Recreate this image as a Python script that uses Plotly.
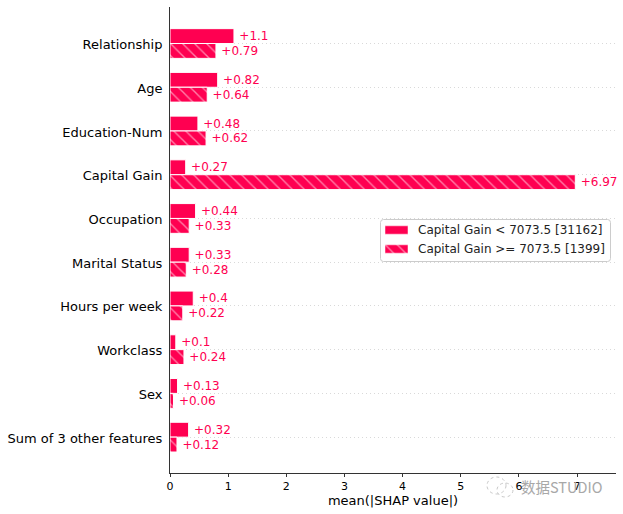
import plotly.graph_objects as go

features = ["Relationship", "Age", "Education-Num", "Capital Gain", "Occupation",
            "Marital Status", "Hours per week", "Workclass", "Sex", "Sum of 3 other features"]
low_values = [1.1, 0.82, 0.48, 0.27, 0.44, 0.33, 0.4, 0.1, 0.13, 0.32]
high_values = [0.79, 0.64, 0.62, 6.97, 0.33, 0.28, 0.22, 0.24, 0.06, 0.12]
low_name = "Capital Gain < 7073.5 [31162]"
high_name = "Capital Gain >= 7073.5 [1399]"
x_ticks = [0, 1, 2, 3, 4, 5, 6, 7]

SHAP_RED = "#ff0051"
FONT = "DejaVu Sans"
HATCH = dict(shape="\\", fgcolor="white", bgcolor=SHAP_RED, size=8.5, solidity=0.16)

# plot area in window pixels
LEFT, RIGHT, TOP, BOTTOM = 170, 616, 7, 473


def px_x(px):
    return (px - LEFT) / (RIGHT - LEFT)


def px_y(py):
    return (BOTTOM - py) / (BOTTOM - TOP)


def labels(values):
    # leading thin space keeps the gap shap leaves between bar and label
    return [f"\u2009+{v:g}" for v in values]


fig = go.Figure()
fig.add_trace(go.Bar(
    y=features, x=low_values, orientation="h", showlegend=False,
    text=labels(low_values), textposition="outside", cliponaxis=False, constraintext="none",
    textfont=dict(color=SHAP_RED, size=12, family=FONT),
    marker=dict(color=SHAP_RED, line=dict(color="white", width=1)),
))
fig.add_trace(go.Bar(
    y=features, x=high_values, orientation="h", showlegend=False,
    text=labels(high_values), textposition="outside", cliponaxis=False, constraintext="none",
    textfont=dict(color=SHAP_RED, size=12, family=FONT),
    marker=dict(color=SHAP_RED, line=dict(color="white", width=1), pattern=HATCH),
))

# legend swatches: the native legend only draws a small square, too small for the hatch
fig.add_trace(go.Bar(
    y=[low_name], x=[1], orientation="h", xaxis="x2", yaxis="y2", showlegend=False,
    width=0.44, offset=-0.22, hoverinfo="skip",
    marker=dict(color=SHAP_RED, line=dict(color="white", width=0.5)),
))
fig.add_trace(go.Bar(
    y=[high_name], x=[1], orientation="h", xaxis="x2", yaxis="y2", showlegend=False,
    width=0.44, offset=-0.22, hoverinfo="skip",
    marker=dict(color=SHAP_RED, line=dict(color="white", width=0.5), pattern=HATCH),
))

fig.update_layout(
    width=623, height=514,
    margin=dict(l=LEFT, r=623 - RIGHT, t=TOP, b=514 - BOTTOM),
    paper_bgcolor="white", plot_bgcolor="white",
    font=dict(family=FONT, color="black"),
    barmode="group", bargap=0.32, bargroupgap=0.0,
    showlegend=False,
    xaxis=dict(
        range=[0, 7.67], tickvals=x_ticks, showgrid=False, zeroline=False,
        showline=True, linecolor="#333333", linewidth=1, ticks="outside",
        ticklen=3, tickcolor="#333333", tickfont=dict(size=11),
        title=dict(text="mean(|SHAP value|)", font=dict(size=13), standoff=3),
    ),
    yaxis=dict(
        type="category", categoryorder="array", categoryarray=features,
        range=[9.82, -0.835], showgrid=True, gridcolor="#d9d9d9", griddash="1px,3px",
        gridwidth=1, zeroline=False, showline=True, linecolor="#333333", linewidth=1,
        ticks="", tickfont=dict(size=13), ticklabelstandoff=4, ticklabelshift=-1,
    ),
    xaxis2=dict(domain=[px_x(385), px_x(408)], range=[0, 1], visible=False, anchor="y2"),
    yaxis2=dict(domain=[px_y(258.5), px_y(220.5)], type="category",
                categoryorder="array", categoryarray=[low_name, high_name],
                range=[1.5, -0.5], visible=False, anchor="x2"),
)

# legend box
x0, x1, y0, y1 = px_x(380.5), px_x(610.5), px_y(261.5), px_y(219.5)
rx, ry = 3 / (RIGHT - LEFT), 3 / (BOTTOM - TOP)
fig.add_shape(
    type="path", xref="paper", yref="paper", layer="below",
    path=(f"M{x0 + rx},{y0} L{x1 - rx},{y0} Q{x1},{y0} {x1},{y0 + ry} L{x1},{y1 - ry} "
          f"Q{x1},{y1} {x1 - rx},{y1} L{x0 + rx},{y1} Q{x0},{y1} {x0},{y1 - ry} "
          f"L{x0},{y0 + ry} Q{x0},{y0} {x0 + rx},{y0} Z"),
    fillcolor="white", line=dict(color="#cccccc", width=1),
)
for name, py in [(low_name, 230), (high_name, 249)]:
    fig.add_annotation(
        text=name, xref="paper", yref="paper", x=px_x(418), y=px_y(py),
        xanchor="left", yanchor="middle", showarrow=False, xshift=-2,
        font=dict(size=12, color="#222222"),
    )

# watermark in the lower right corner
fig.add_annotation(
    text="数据STUDIO", xref="paper", yref="paper", x=px_x(604), y=px_y(486),
    xanchor="right", yanchor="middle", showarrow=False,
    font=dict(family="Noto Sans CJK SC", size=14.5, color="#a8a8a8"),
)
for cx0, cx1, cy0, cy1 in [(487, 506, 477, 494), (497, 513, 483, 497)]:
    fig.add_shape(type="circle", xref="paper", yref="paper",
                  x0=px_x(cx0), x1=px_x(cx1), y0=px_y(cy1), y1=px_y(cy0),
                  line=dict(color="#c8c8c8", width=1, dash="dot"))

fig.write_html("out.html", post_script="document.body.style.margin='0';",
               config=dict(displayModeBar=False))
